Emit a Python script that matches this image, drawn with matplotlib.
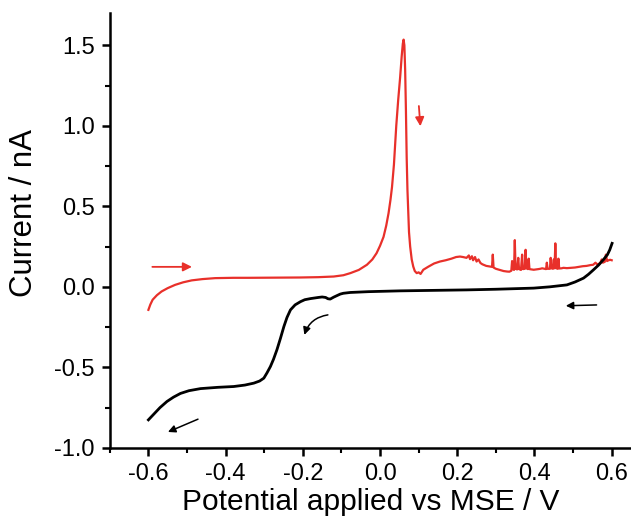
import numpy as np
import matplotlib
matplotlib.use('Agg')
import matplotlib.pyplot as plt
from matplotlib.ticker import MultipleLocator

# forward scan (red), -0.6 V -> 0.6 V
fwd_v = [-0.600, -0.595, -0.589, -0.578, -0.566, -0.550, -0.531, -0.510, -0.488, -0.460,
         -0.427, -0.380, -0.340, -0.280, -0.207, -0.160, -0.120, -0.095, -0.077, -0.055,
         -0.034, -0.020, -0.009, 0.000, 0.009, 0.016, 0.022, 0.027, 0.031, 0.036,
         0.042, 0.047, 0.052, 0.056, 0.059, 0.061, 0.063, 0.065, 0.067, 0.069,
         0.071, 0.073, 0.075, 0.078, 0.082, 0.086, 0.090, 0.095, 0.100, 0.105,
         0.112, 0.125, 0.140, 0.155, 0.170, 0.185, 0.197, 0.207, 0.215, 0.224,
         0.230, 0.233, 0.238, 0.241, 0.246, 0.250, 0.255, 0.260, 0.265, 0.270,
         0.275, 0.280, 0.285, 0.290, 0.292, 0.294, 0.300, 0.310, 0.320, 0.329,
         0.335, 0.340, 0.342, 0.344, 0.347, 0.349, 0.351, 0.355, 0.358, 0.360,
         0.365, 0.368, 0.370, 0.375, 0.377, 0.379, 0.383, 0.385, 0.387, 0.392,
         0.398, 0.405, 0.410, 0.415, 0.420, 0.430, 0.432, 0.434, 0.440, 0.442,
         0.444, 0.448, 0.450, 0.452, 0.454, 0.456, 0.460, 0.462, 0.464, 0.470,
         0.475, 0.484, 0.495, 0.505, 0.515, 0.525, 0.535, 0.545, 0.552, 0.558,
         0.562, 0.570, 0.574, 0.577, 0.582, 0.585, 0.588, 0.592, 0.596, 0.600]
fwd_i = [-0.143, -0.110, -0.080, -0.052, -0.029, -0.008, 0.012, 0.028, 0.040, 0.048,
         0.054, 0.056, 0.056, 0.057, 0.058, 0.060, 0.064, 0.072, 0.085, 0.105,
         0.137, 0.170, 0.209, 0.255, 0.310, 0.380, 0.457, 0.540, 0.620, 0.760,
         1.000, 1.160, 1.300, 1.430, 1.510, 1.535, 1.500, 1.350, 1.100, 0.800,
         0.600, 0.460, 0.340, 0.250, 0.170, 0.126, 0.098, 0.085, 0.090, 0.080,
         0.106, 0.125, 0.145, 0.157, 0.165, 0.175, 0.185, 0.188, 0.185, 0.180,
         0.195, 0.172, 0.190, 0.165, 0.185, 0.157, 0.170, 0.148, 0.140, 0.135,
         0.130, 0.128, 0.126, 0.124, 0.200, 0.120, 0.112, 0.105, 0.098, 0.095,
         0.094, 0.100, 0.160, 0.110, 0.105, 0.290, 0.112, 0.108, 0.180, 0.110,
         0.105, 0.200, 0.110, 0.112, 0.230, 0.115, 0.110, 0.175, 0.110, 0.108,
         0.106, 0.108, 0.110, 0.112, 0.115, 0.110, 0.150, 0.112, 0.112, 0.180,
         0.115, 0.112, 0.170, 0.115, 0.270, 0.116, 0.112, 0.175, 0.114, 0.115,
         0.118, 0.116, 0.118, 0.120, 0.124, 0.128, 0.130, 0.135, 0.137, 0.150,
         0.140, 0.145, 0.170, 0.150, 0.155, 0.200, 0.160, 0.165, 0.168, 0.165]

# reverse scan (black), 0.6 V -> -0.6 V
rev_v = [0.601, 0.595, 0.589, 0.579, 0.566, 0.553, 0.540, 0.527, 0.505, 0.484,
         0.440, 0.398, 0.300, 0.225, 0.052, -0.030, -0.077, -0.095, -0.103, -0.112,
         -0.120, -0.129, -0.135, -0.141, -0.150, -0.160, -0.180, -0.195, -0.206, -0.220,
         -0.232, -0.241, -0.249, -0.258, -0.267, -0.276, -0.284, -0.293, -0.301, -0.312,
         -0.327, -0.350, -0.379, -0.420, -0.465, -0.495, -0.517, -0.535, -0.552, -0.570,
         -0.585, -0.600]
rev_i = [0.270, 0.230, 0.200, 0.170, 0.135, 0.106, 0.078, 0.054, 0.030, 0.012,
         0.000, -0.008, -0.015, -0.019, -0.025, -0.030, -0.035, -0.040, -0.045, -0.055,
         -0.064, -0.076, -0.074, -0.066, -0.063, -0.066, -0.073, -0.080, -0.092, -0.112,
         -0.143, -0.190, -0.246, -0.320, -0.390, -0.450, -0.495, -0.535, -0.567, -0.585,
         -0.598, -0.610, -0.619, -0.624, -0.632, -0.645, -0.662, -0.685, -0.712, -0.750,
         -0.788, -0.826]

red = '#e8302a'

plt.rcParams['font.family'] = ['Liberation Sans', 'DejaVu Sans']

fig = plt.figure(figsize=(6.31, 5.22), dpi=100)
ax = fig.add_axes([0.174, 0.142, 0.826, 0.833])

ax.plot(fwd_v, fwd_i, color=red, lw=1.6)
ax.plot(rev_v, rev_i, color='black', lw=2.0)

# scan direction arrows
ax.annotate('', xy=(-0.480, 0.124), xytext=(-0.597, 0.124),
            arrowprops=dict(arrowstyle='-|>', color=red, lw=1.3, mutation_scale=13))
ax.annotate('', xy=(0.105, 0.98), xytext=(0.100, 1.14),
            arrowprops=dict(arrowstyle='-|>', color=red, lw=1.3, mutation_scale=13))
ax.annotate('', xy=(0.474, -0.118), xytext=(0.568, -0.112),
            arrowprops=dict(arrowstyle='-|>', color='black', lw=1.1, mutation_scale=11))
ax.annotate('', xy=(-0.198, -0.315), xytext=(-0.128, -0.172),
            arrowprops=dict(arrowstyle='-|>', color='black', lw=1.1, mutation_scale=11,
                            connectionstyle='arc3,rad=0.35'))
ax.annotate('', xy=(-0.556, -0.908), xytext=(-0.465, -0.815),
            arrowprops=dict(arrowstyle='-|>', color='black', lw=1.1, mutation_scale=11))

ax.set_xlim(-0.7, 0.65)
ax.set_ylim(-1.0, 1.7)
ax.xaxis.set_minor_locator(MultipleLocator(0.1))
ax.yaxis.set_minor_locator(MultipleLocator(0.25))
ax.set_xticks([-0.6, -0.4, -0.2, 0.0, 0.2, 0.4, 0.6])
ax.set_xticklabels(['-0.6', '-0.4', '-0.2', '0.0', '0.2', '0.4', '0.6'])
ax.set_yticks([-1.0, -0.5, 0.0, 0.5, 1.0, 1.5])
ax.set_yticklabels(['-1.0', '-0.5', '0.0', '0.5', '1.0', '1.5'])

for s in ['top', 'right']:
    ax.spines[s].set_visible(False)
for s in ['left', 'bottom']:
    ax.spines[s].set_linewidth(1.8)

ax.tick_params(which='major', direction='out', length=6, width=1.8, labelsize=17, pad=5)
ax.tick_params(which='minor', direction='out', length=3.5, width=1.5)

ax.set_xlabel('Potential applied vs MSE / V', fontsize=21.5, labelpad=2)
ax.set_ylabel('Current / nA', fontsize=22.5, labelpad=11)
ax.yaxis.label.set_y(0.54)

fig.savefig('out.png', dpi=100)
